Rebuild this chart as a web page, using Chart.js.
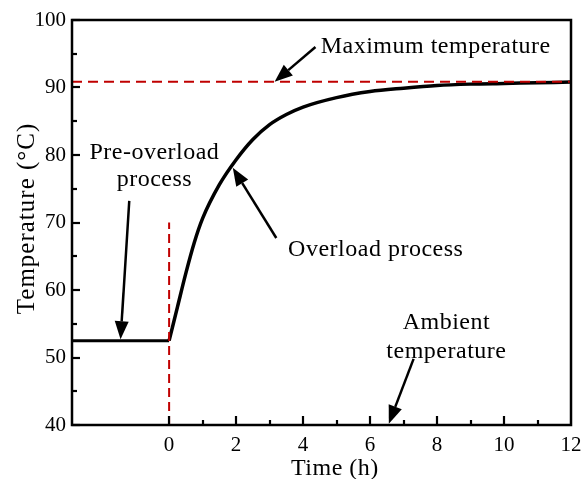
<!DOCTYPE html>
<html>
<head>
<meta charset="utf-8">
<script src="https://cdn.jsdelivr.net/npm/chart.js@4.4.0/dist/chart.umd.min.js"></script>
<style>
  body { margin: 0; background: #fff; }
  #wrap { width: 584px; height: 479px; }
</style>
</head>
<body>
<div id="wrap"><canvas id="tempChart" width="584" height="479"></canvas></div>
<script>
// data
const preTime = [-2.9, 0];
const preTemp = [52.5, 52.5];
const overTime = [0, 0.25, 0.5, 0.75, 1, 1.5, 2, 2.5, 3, 3.5, 4, 5, 6, 7, 8, 9, 10, 11, 12];
const overTemp = [52.5, 57.5, 62.5, 67, 70.6, 75.6, 79.3, 82.3, 84.5, 86.0, 87.1, 88.5, 89.4, 89.9, 90.3, 90.5, 90.6, 90.7, 90.8];
const maxTemp = 90.85;
const startLine = [40, 70];   // red dashed at t = 0
const xRange = [-2.9, 12];
const yRange = [40, 100];

// annotations in data units: text lines and arrows (tail -> tip)
const notes = [
  { lines: ['Maximum temperature'], x: 7.96, y: [96.0] },
  { lines: ['Pre-overload', 'process'], x: -0.44, y: [80.4, 76.3] },
  { lines: ['Overload process'], x: 6.17, y: [66.0] },
  { lines: ['Ambient', 'temperature'], x: 8.28, y: [55.1, 50.8] }
];
const arrows = [
  { from: [4.37, 96.0], to: [3.15, 90.85] },
  { from: [-1.19, 73.2], to: [-1.45, 52.7] },
  { from: [3.2, 67.7], to: [1.9, 78.1] },
  { from: [7.3, 49.8], to: [6.56, 40.2] }
];

const FONT = "'Liberation Serif', 'Times New Roman', serif";
const RED = '#c00000';

function pts(xs, ys) { return xs.map((x, i) => ({ x: x, y: ys[i] })); }

function drawArrow(ctx, x1, y1, x2, y2) {
  const ang = Math.atan2(y2 - y1, x2 - x1);
  const len = 18, half = 7;
  const bx = x2 - len * Math.cos(ang), by = y2 - len * Math.sin(ang);
  ctx.beginPath();
  ctx.moveTo(x1, y1);
  ctx.lineTo(bx, by);
  ctx.stroke();
  ctx.beginPath();
  ctx.moveTo(x2, y2);
  ctx.lineTo(bx + half * Math.sin(ang), by - half * Math.cos(ang));
  ctx.lineTo(bx - half * Math.sin(ang), by + half * Math.cos(ang));
  ctx.closePath();
  ctx.fill();
}

const framePlugin = {
  id: 'frame',
  afterDraw(chart) {
    const ctx = chart.ctx, a = chart.chartArea;
    const xs = chart.scales.x, ys = chart.scales.y;
    ctx.save();
    ctx.strokeStyle = '#000';
    ctx.fillStyle = '#000';
    ctx.lineWidth = 2.5;
    ctx.strokeRect(a.left, a.top, a.right - a.left, a.bottom - a.top);

    // inward tick marks
    ctx.lineWidth = 2.2;
    ys.ticks.forEach(t => {
      const p = Math.round(ys.getPixelForValue(t.value));
      const len = t.value % 10 === 0 ? 8 : 5;
      ctx.beginPath(); ctx.moveTo(a.left, p); ctx.lineTo(a.left + len, p); ctx.stroke();
    });
    xs.ticks.forEach(t => {
      if (t.value < 0 || t.value > 11.5) return;
      const p = Math.round(xs.getPixelForValue(t.value));
      const len = t.value % 2 === 0 ? 9 : 5;
      ctx.beginPath(); ctx.moveTo(p, a.bottom); ctx.lineTo(p, a.bottom - len); ctx.stroke();
    });

    // axis titles
    ctx.letterSpacing = '0.5px';
    ctx.font = '24px ' + FONT;
    ctx.textAlign = 'center';
    ctx.textBaseline = 'middle';
    ctx.fillText('Time (h)', xs.getPixelForValue(4.95), a.bottom + 44);
    ctx.save();
    ctx.translate(27, ys.getPixelForValue(70.6));
    ctx.rotate(-Math.PI / 2);
    ctx.font = '25px ' + FONT;
    ctx.letterSpacing = '1px';
    ctx.fillText('Temperature (\u00b0C)', 0, 0);
    ctx.restore();

    // annotations
    notes.forEach(n => {
      n.lines.forEach((s, i) => {
        ctx.fillText(s, xs.getPixelForValue(n.x), ys.getPixelForValue(n.y[i]));
      });
    });
    ctx.lineWidth = 2.5;
    arrows.forEach(r => {
      drawArrow(ctx,
        xs.getPixelForValue(r.from[0]), ys.getPixelForValue(r.from[1]),
        xs.getPixelForValue(r.to[0]), ys.getPixelForValue(r.to[1]));
    });
    ctx.restore();
  }
};

new Chart(document.getElementById('tempChart'), {
  type: 'line',
  data: {
    datasets: [
      {
        data: pts(xRange, [maxTemp, maxTemp]),
        borderColor: RED, borderWidth: 2, borderDash: [10, 6],
        pointRadius: 0, order: 0
      },
      {
        data: pts([0, 0], startLine),
        borderColor: RED, borderWidth: 2, borderDash: [9, 5],
        pointRadius: 0, order: 1
      },
      {
        data: pts(preTime, preTemp),
        borderColor: '#000', borderWidth: 3,
        pointRadius: 0, order: 2
      },
      {
        data: pts(overTime, overTemp),
        borderColor: '#000', borderWidth: 3.5,
        cubicInterpolationMode: 'monotone',
        pointRadius: 0, order: 3
      }
    ]
  },
  options: {
    responsive: false,
    animation: false,
    layout: { padding: { left: 0, right: 13, top: 20, bottom: 0 } },
    plugins: { legend: { display: false }, tooltip: { enabled: false } },
    scales: {
      x: {
        type: 'linear',
        min: xRange[0], max: xRange[1],
        grid: { display: false, tickLength: 0 },
        border: { display: false },
        afterFit: s => { s.height = 54; s.paddingLeft = 0; s.paddingRight = 0; },
        afterBuildTicks: s => { s.ticks = s.ticks.filter(t => Number.isInteger(t.value)); },
        ticks: {
          stepSize: 1, autoSkip: false, maxRotation: 0, padding: 8,
          color: '#000', font: { family: FONT, size: 21 },
          callback: v => (v >= 0 && v % 2 === 0) ? String(v) : ''
        }
      },
      y: {
        min: yRange[0], max: yRange[1],
        grid: { display: false, tickLength: 0 },
        border: { display: false },
        afterFit: s => { s.width = 72; s.paddingTop = 0; s.paddingBottom = 0; },
        ticks: {
          stepSize: 5, padding: 6,
          color: '#000', font: { family: FONT, size: 21 },
          callback: v => v % 10 === 0 ? String(v) : ''
        }
      }
    }
  },
  plugins: [framePlugin]
});
</script>
</body>
</html>
